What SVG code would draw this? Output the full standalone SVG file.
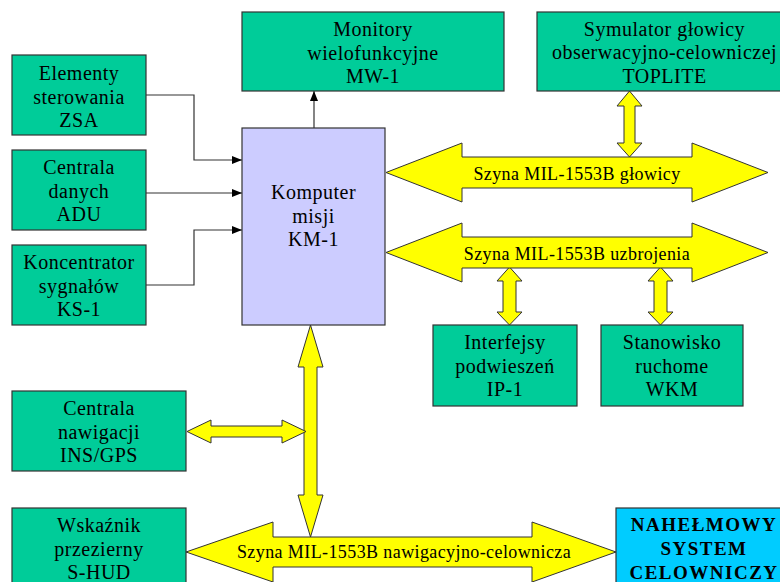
<svg xmlns="http://www.w3.org/2000/svg" width="780" height="582" viewBox="0 0 780 582">
<defs>
<style>
.box{fill:#00CC99;stroke:#333;stroke-width:1.2}
.km{fill:#CCCCFF;stroke:#333;stroke-width:1.2}
.nsc{fill:#00CCFF;stroke:#333;stroke-width:1.2}
.t{font-size:20px;letter-spacing:0.5px;fill:#000;text-anchor:middle}
.b{font-size:18px;letter-spacing:0.4px;fill:#000;text-anchor:middle}
.nb{font-size:19px;font-weight:bold;letter-spacing:1.5px;fill:#000;text-anchor:middle}
.bus{fill:#FFFF00;stroke:#333;stroke-width:1}
.ln{fill:none;stroke:#333;stroke-width:1.2}
</style>
<marker id="ah" viewBox="0 0 10 8" refX="10" refY="4" markerWidth="10" markerHeight="8" markerUnits="userSpaceOnUse" orient="auto">
<path d="M0,0 L10,4 L0,8 Z" fill="#000"/>
</marker>
</defs>
<rect width="780" height="582" fill="#fff"/>
<g font-family="'Liberation Serif', 'DejaVu Serif', serif">
<g id="connectors">
<polyline class="ln" points="146,95 194,95 194,160 242,160" marker-end="url(#ah)"/>
<polyline class="ln" points="146,193 242,193" marker-end="url(#ah)"/>
<polyline class="ln" points="146,285 194,285 194,230 242,230" marker-end="url(#ah)"/>
<polyline class="ln" points="314,128 314,91" marker-end="url(#ah)"/>
<polygon class="bus" points="629.5,91 642,106 635,106 635,143 642,143 629.5,157 617,143 624,143 624,106 617,106"/>
<polygon class="bus" points="509.5,267 522,281 516,281 516,312 522,312 509.5,325 497,312 503,312 503,281 497,281"/>
<polygon class="bus" points="660.5,267 673,281 667,281 667,312 673,312 660.5,325 648,312 654,312 654,281 648,281"/>
<polygon class="bus" points="310.5,325 323,367 317,367 317,495 323,495 310.5,537 298,495 304,495 304,367 298,367"/>
<polygon class="bus" points="187,431.5 211,420 211,426 282,426 282,420 306,431.5 282,443 282,437 211,437 211,443"/>
</g>

<g id="bus-glowicy">
<polygon class="bus" points="386,172.5 462,143 462,157 692,157 692,143 768,172.5 692,202 692,188 462,188 462,202"/>
<text class="b" x="577" y="180">Szyna MIL-1553B głowicy</text>
</g>
<g id="bus-uzbrojenia">
<polygon class="bus" points="386,252.5 462,223 462,237 692,237 692,223 768,252.5 692,282 692,268 462,268 462,282"/>
<text class="b" x="577" y="260">Szyna MIL-1553B uzbrojenia</text>
</g>
<g id="bus-nawigacyjno">
<polygon class="bus" points="186,552 273,522 273,537 532,537 532,522 616,552 532,582 532,567 273,567 273,582"/>
<text class="b" x="404" y="558">Szyna MIL-1553B nawigacyjno-celownicza</text>
</g>

<g id="zsa">
<rect class="box" x="12" y="55" width="134" height="80"/>
<text class="t" x="79" y="80">Elementy</text>
<text class="t" x="79" y="103.5">sterowania</text>
<text class="t" x="79" y="127">ZSA</text>
</g>
<g id="adu">
<rect class="box" x="12" y="150" width="134" height="80"/>
<text class="t" x="79" y="174">Centrala</text>
<text class="t" x="79" y="197.5">danych</text>
<text class="t" x="79" y="221">ADU</text>
</g>
<g id="ks1">
<rect class="box" x="12" y="245" width="134" height="80"/>
<text class="t" x="79" y="269">Koncentrator</text>
<text class="t" x="79" y="292.5">sygnałów</text>
<text class="t" x="79" y="316">KS-1</text>
</g>
<g id="mw1">
<rect class="box" x="242" y="12" width="262" height="79"/>
<text class="t" x="373" y="36">Monitory</text>
<text class="t" x="373" y="59.5">wielofunkcyjne</text>
<text class="t" x="373" y="83">MW-1</text>
</g>
<g id="toplite">
<rect class="box" x="537" y="12" width="254" height="79"/>
<text class="t" x="664.5" y="35.5">Symulator głowicy</text>
<text class="t" x="664.5" y="59">obserwacyjno-celowniczej</text>
<text class="t" x="664.5" y="82.5">TOPLITE</text>
</g>
<g id="km1">
<rect class="km" x="242" y="128" width="143" height="197"/>
<text class="t" x="313.5" y="199">Komputer</text>
<text class="t" x="313.5" y="222.5">misji</text>
<text class="t" x="313.5" y="246">KM-1</text>
</g>
<g id="ip1">
<rect class="box" x="433" y="325" width="144" height="81"/>
<text class="t" x="505" y="349">Interfejsy</text>
<text class="t" x="505" y="372.5">podwieszeń</text>
<text class="t" x="505" y="396">IP-1</text>
</g>
<g id="wkm">
<rect class="box" x="601" y="325" width="142" height="81"/>
<text class="t" x="672" y="349">Stanowisko</text>
<text class="t" x="672" y="372.5">ruchome</text>
<text class="t" x="672" y="396">WKM</text>
</g>
<g id="insgps">
<rect class="box" x="12" y="391" width="174" height="80"/>
<text class="t" x="99" y="415">Centrala</text>
<text class="t" x="99" y="438.5">nawigacji</text>
<text class="t" x="99" y="462">INS/GPS</text>
</g>
<g id="shud">
<rect class="box" x="12" y="508" width="174" height="90"/>
<text class="t" x="99" y="532">Wskaźnik</text>
<text class="t" x="99" y="555.5">przezierny</text>
<text class="t" x="99" y="579">S-HUD</text>
</g>
<g id="nsc">
<rect class="nsc" x="616" y="508" width="176" height="90"/>
<text class="nb" x="704" y="531">NAHEŁMOWY</text>
<text class="nb" x="704" y="555">SYSTEM</text>
<text class="nb" x="704" y="579">CELOWNICZY</text>
</g>
</g>
</svg>
